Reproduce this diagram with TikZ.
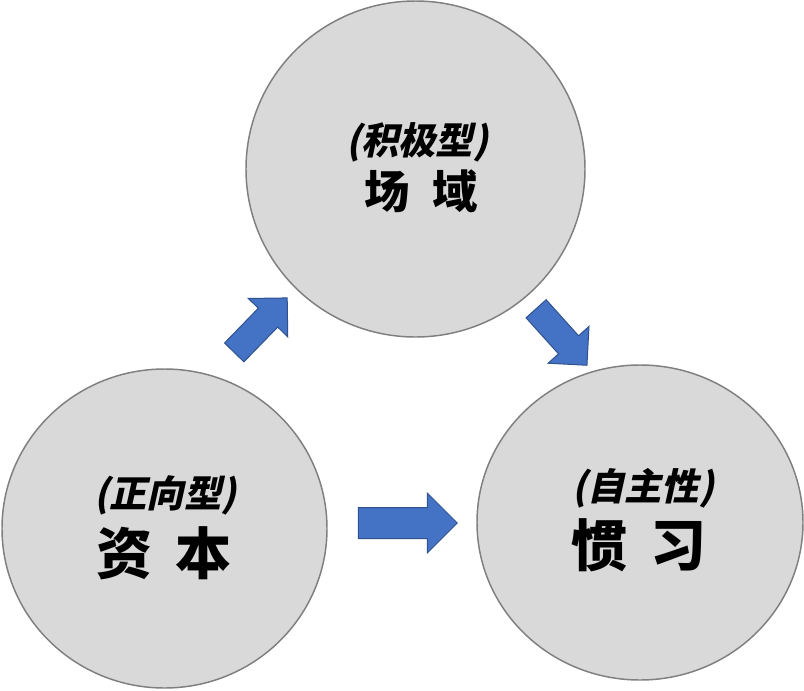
\documentclass[tikz,border=0pt]{standalone}
\usepackage{fontspec}
\newfontfamily\cjk{Noto Sans CJK SC}
\newfontfamily\cjkslant{Noto Sans CJK SC}[FakeSlant=0.22]
\usetikzlibrary{shapes.geometric,shapes.arrows}
\definecolor{circfill}{HTML}{D9D9D9}
\definecolor{circline}{HTML}{7F7F7F}
\definecolor{arrfill}{HTML}{4472C4}
\definecolor{arrline}{HTML}{2F528F}
\newcommand{\px}{0.75pt}

\begin{document}
\begin{tikzpicture}[
  x=0.75pt, y=-0.75pt,
  circ/.style={ellipse, draw=circline, line width=1.1pt, fill=circfill, inner sep=0pt},
  subtext/.style={font=\cjkslant\bfseries\fontsize{28}{32}\selectfont, inner sep=0pt},
  maintext/.style={font=\cjk\bfseries\fontsize{42}{50}\selectfont, inner sep=0pt},
  flow/.style={single arrow, draw=arrline, fill=arrfill, line width=0.75pt,
    inner xsep=0pt, inner ysep=13*\px, single arrow head extend=14*\px,
    minimum height=76*\px},
  bigflow/.style={flow, inner ysep=15*\px, single arrow head extend=14.5*\px,
    minimum height=99*\px}]
\useasboundingbox (0,0) rectangle (804,690);
% three fields
\node[circ, minimum width=339*\px, minimum height=336*\px] (field) at (415.5,169) {};
\node[circ, minimum width=325*\px, minimum height=319*\px] (capital) at (164.5,528.5) {};
\node[circ, minimum width=326*\px, minimum height=315*\px] (habitus) at (640,522.5) {};
\node[subtext] (fieldsub) at (417,142) {(积极型)};
\node[maintext, font=\cjk\bfseries\fontsize{34}{40}\selectfont] (fieldname) at (421,191) {场\hspace{0.5em}域};
\node[subtext] (capitalsub) at (165.5,495) {(正向型)};
\node[maintext] (capitalname) at (164,553) {资\hspace{0.4em}本};
\node[subtext] (habitussub) at (643,488) {(自主性)};
\node[maintext] (habitusname) at (639,545) {惯\hspace{0.4em}习};
% block arrows
\node[flow, rotate=45.8] (capfield) at (256,330) {};
\node[flow, rotate=-48] (fieldhab) at (557,332) {};
\node[bigflow] (caphab) at (400,523) {};
\end{tikzpicture}
\end{document}
